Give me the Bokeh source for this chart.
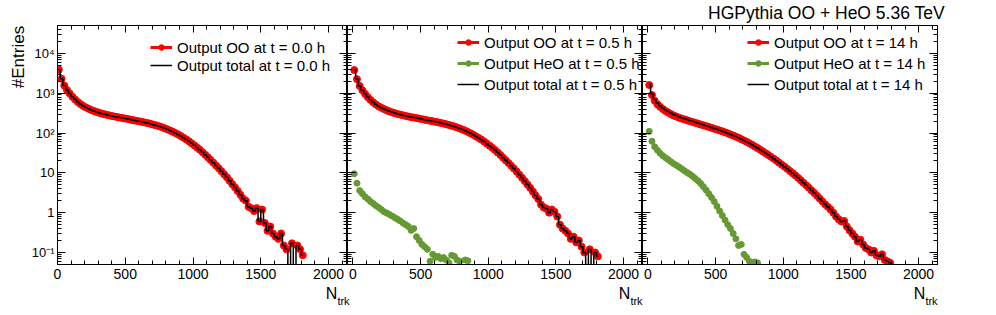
import math
from bokeh.plotting import figure
from bokeh.layouts import row, column
from bokeh.models import (Range1d, LinearAxis, LogAxis, FixedTicker, SingleIntervalTicker,
                          Legend, LegendItem, Label, CustomJSTickFormatter, ColumnDataSource)
from bokeh.embed import file_html
from bokeh.resources import INLINE

# ---------------- data ----------------
bin_centers = list(range(10, 1830, 20))  # N_trk bin centres (bin width 20)

oo_t0 = [3900, 2300, 1550, 1200, 980, 810, 690, 600, 530, 478,
         438, 405, 378, 355, 336, 320, 306, 294, 283, 273,
         264, 256, 248, 241, 234, 227, 220, 213, 207, 200,
         194, 188, 182, 176, 169, 162, 155, 148, 140, 132,
         124, 116, 108, 100, 92, 84, 76, 69, 62, 55,
         49, 43, 38, 33, 28.5, 24.5, 21, 18, 15.3, 13,
         11, 9.2, 7.7, 6.3, 5.2, 4.3, 3.5, 2.8, 2.25, 2.0,
         1.4, 1.3, 1.1, 1.3, 0.6, 1.2, 0.55, 0.35, 0.45, 0.3,
         0.25, 0.22, 0.3, 0.15, 0.12, 0, 0.17, 0, 0.15, 0.12, 0.085]

oo_t05 = [3800, 2250, 1520, 1180, 960, 795, 678, 590, 521, 470,
          430, 398, 372, 349, 331, 315, 301, 289, 278, 268,
          259, 251, 244, 237, 230, 223, 216, 209, 203, 197,
          191, 185, 179, 173, 166, 159, 152, 145, 138, 130,
          122, 114, 106, 98, 90, 82, 75, 68, 61, 54,
          48, 42.5, 37.5, 32.5, 28, 24, 20.6, 17.6, 15, 12.8,
          10.8, 9.0, 7.5, 6.2, 5.1, 4.2, 3.4, 2.7, 2.2, 1.6,
          1.35, 1.25, 1.0, 1.2, 1.05, 0.8, 0.5, 0.4, 0.35, 0.3,
          0.22, 0.25, 0.18, 0.2, 0.14, 0.1, 0, 0.12, 0, 0.1, 0.08]

heo_t05 = [9.5, 5.5, 3.6, 3.0, 2.5, 2.2, 1.9, 1.7, 1.5, 1.35,
           1.2, 1.05, 0.98, 0.9, 0.82, 0.75, 0.68, 0.62, 0.55, 0.5,
           0.45, 0.36, 0.4, 0.25, 0.2, 0.16, 0.14, 0.12, 0.06, 0.09,
           0.075, 0.08, 0.07, 0.075, 0.065, 0.055, 0.085, 0.08, 0.065, 0.06,
           0, 0.065, 0.062]

oo_t14 = [1600, 900, 650, 530, 455, 400, 358, 325, 298, 276,
          258, 243, 230, 219, 208, 198, 189, 180, 172, 164,
          156, 149, 142, 135, 128, 122, 116, 110, 104, 98,
          92, 86.5, 81, 75.5, 70, 65, 60, 55, 50.5, 46,
          42, 38, 34.5, 31, 28, 25.2, 22.6, 20.2, 18, 16,
          14.2, 12.6, 11.1, 9.8, 8.6, 7.5, 6.5, 5.6, 4.85, 4.2,
          3.6, 3.1, 2.65, 2.25, 1.9, 1.62, 1.4, 1.2, 1.0, 0.8,
          0.68, 0.6, 0.62, 0.45, 0.36, 0.3, 0.25, 0.19, 0.21, 0.16,
          0.13, 0.12, 0.1, 0.11, 0.085, 0.08, 0.09, 0.065, 0.06, 0.055, 0]

heo_t14 = [110, 62, 45, 37, 31, 27, 24, 21.5, 19, 17,
           15.5, 14, 12.6, 11.3, 10.2, 9.2, 8.2, 7.2, 6.3, 5.4,
           4.5, 3.7, 3.0, 2.4, 1.9, 1.45, 1.1, 0.85, 0.65, 0.5,
           0.4, 0.3, 0.22, 0.15, 0.16, 0.09, 0.075, 0.06, 0.055, 0.058,
           0.055]

labels_t0 = ["Output OO at t = 0.0 h", "Output total at t = 0.0 h"]
labels_t05 = ["Output OO at t = 0.5 h", "Output HeO at t = 0.5 h", "Output total at t = 0.5 h"]
labels_t14 = ["Output OO at t = 14 h", "Output HeO at t = 14 h", "Output total at t = 14 h"]

x_major_interval = 500
y_major = [0.1, 1, 10, 100, 1000, 10000]
y_minor = [m * 10.0 ** e for e in range(-2, 5) for m in range(2, 10)
           if 0.05 <= m * 10.0 ** e <= 5e4]

title_text = "HGPythia OO + HeO 5.36 TeV"
ytitle = "#Entries"
xtitle_main = "N"
xtitle_sub = "trk"

# ---------------- style ----------------
FONT = "Liberation Sans"
RED = "#ff0000"
GREEN = "#669933"
MAIN_H = 261


def pad(vals):
    return list(vals) + [0.0] * (len(bin_centers) - len(vals))


YFMT = """
const e = Math.round(Math.log10(tick));
if (e === 0) return "1";
if (e === 1) return "10";
const sup = {"-": "\\u207b", "0": "\\u2070", "1": "\\u00b9", "2": "\\u00b2", "3": "\\u00b3",
             "4": "\\u2074", "5": "\\u2075", "6": "\\u2076", "7": "\\u2077", "8": "\\u2078", "9": "\\u2079"};
let s = "";
for (const c of String(e)) s += sup[c];
return "10" + s;
"""


def style_axis(ax, kind, labels):
    if kind == "x":
        ax.ticker = SingleIntervalTicker(interval=x_major_interval, num_minor_ticks=5)
        ax.major_tick_in = 7
        ax.minor_tick_in = 4
    else:
        ax.ticker = FixedTicker(ticks=y_major, minor_ticks=y_minor)
        ax.major_tick_in = 8
        ax.minor_tick_in = 4
    ax.major_tick_out = 0
    ax.minor_tick_out = 0
    ax.axis_line_color = "black"
    ax.axis_line_width = 1
    ax.major_tick_line_color = "black"
    ax.minor_tick_line_color = "black"
    if labels:
        ax.major_label_text_font = FONT
        ax.major_label_text_font_size = "14px" if kind == "x" else "13px"
        ax.major_label_text_color = "black"
        ax.major_label_standoff = 4 if kind == "x" else 3
        if kind == "y":
            ax.formatter = CustomJSTickFormatter(code=YFMT)
    else:
        ax.formatter = CustomJSTickFormatter(code="return '';")
        ax.major_label_text_font_size = "0px"
        ax.major_label_standoff = 0


def make_panel(width, bl, br, xstart, oo, heo, labels, leg_loc, row_h, spacing, first):
    p = figure(width=width, height=MAIN_H, x_range=Range1d(xstart, 2140),
               y_range=Range1d(0.05, 5e4), y_axis_type="log",
               output_backend="svg", toolbar_location=None,
               min_border_left=bl, min_border_right=br,
               min_border_top=0, min_border_bottom=22)
    p.grid.visible = False
    p.outline_line_color = "black"
    style_axis(p.xaxis[0], "x", True)
    style_axis(p.yaxis[0], "y", first)
    top = LinearAxis()
    style_axis(top, "x", False)
    p.add_layout(top, "above")
    right = LogAxis()
    style_axis(right, "y", False)
    p.add_layout(right, "right")

    heo_full = pad(heo) if heo is not None else [0.0] * len(bin_centers)
    total = [a + b for a, b in zip(oo, heo_full)]

    src_oo = ColumnDataSource(dict(x=[c for c, v in zip(bin_centers, oo) if v > 0],
                                   y=[v for v in oo if v > 0]))
    r_oo = p.scatter("x", "y", source=src_oo, size=7, color=RED)
    # single-point line: draws nothing on the plot, only provides the legend's line
    r_oo_leg = p.line(x=bin_centers[:1], y=oo[:1], line_color=RED, line_width=3)
    items = [LegendItem(label=labels[0], renderers=[r_oo_leg, r_oo])]
    if heo is not None:
        src_he = ColumnDataSource(dict(x=[c for c, v in zip(bin_centers, heo_full) if v > 0],
                                       y=[v for v in heo_full if v > 0]))
        r_he = p.scatter("x", "y", source=src_he, size=6, color=GREEN)
        r_he_leg = p.line(x=bin_centers[:1], y=heo_full[:1], line_color=GREEN, line_width=3)
        items.append(LegendItem(label=labels[1], renderers=[r_he_leg, r_he]))
    r_tot = p.step(x=bin_centers, y=[v if v > 0 else 1e-3 for v in total], mode="center",
                   line_color="black", line_width=1.5)
    items.append(LegendItem(label=labels[-1], renderers=[r_tot]))

    leg = Legend(items=items, location=leg_loc, background_fill_alpha=0,
                 border_line_color=None, padding=0, margin=0, spacing=spacing,
                 glyph_width=22, glyph_height=14, label_height=row_h,
                 label_standoff=5, label_text_font=FONT, label_text_font_size="15px",
                 label_text_baseline="middle", label_text_color="black")
    p.add_layout(leg)
    return p


def strip(width, height):
    s = figure(width=width, height=height, x_axis_type=None, y_axis_type=None,
               x_range=Range1d(0, 1), y_range=Range1d(0, 1),
               output_backend="svg", toolbar_location=None,
               min_border_left=0, min_border_right=0, min_border_top=0, min_border_bottom=0)
    s.outline_line_color = None
    s.title.visible = False
    return s


def text_label(x, y, text, size, angle=0.0):
    return Label(x=x, y=y, x_units="screen", y_units="screen", text=text, angle=angle,
                 text_align="center", text_baseline="middle",
                 text_font=FONT, text_font_size=size, text_color="black")


p1 = make_panel(319, 27, 0, 0, oo_t0, None, labels_t0, (93, 190), 18, 0, True)
p2 = make_panel(295, 0, 0, -40, oo_t05, heo_t05, labels_t05, (110, 170), 20, 1, False)
p3 = make_panel(354, 0, 59, -40, oo_t14, heo_t14, labels_t14, (105, 170), 20, 1, False)

# top strip with the overall title
top_strip = strip(996, 25)
top_strip.add_layout(text_label(826, 12.5, title_text, "17.5px"))

# left strip with the rotated y-axis title (rotated labels render ~21px higher than their anchor)
left_strip = strip(28, MAIN_H)
left_strip.add_layout(text_label(18, MAIN_H - 32.5 - 21, ytitle, "17px", angle=math.pi / 2))

# bottom strip with the x-axis titles
bottom_strip = strip(996, 28)
for n_c, sub_c in ((331, 343), (624, 636), (919, 931)):
    bottom_strip.add_layout(text_label(n_c, 21, xtitle_main, "16px"))
    bottom_strip.add_layout(text_label(sub_c, 14, xtitle_sub, "11px"))

layout = column(top_strip, row(left_strip, p1, p2, p3, spacing=0), bottom_strip, spacing=0)
open("out.html", "w").write(file_html(layout, INLINE))
